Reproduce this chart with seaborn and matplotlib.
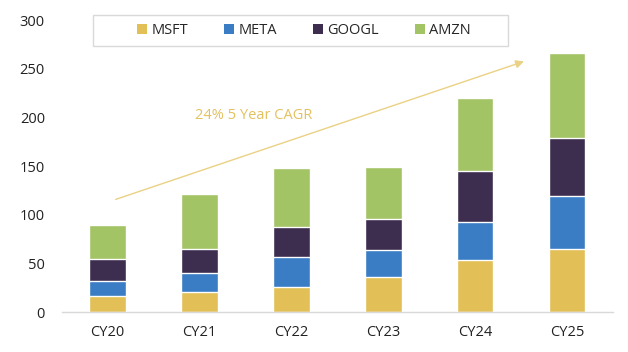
import matplotlib
matplotlib.use("Agg")
import matplotlib.pyplot as plt
from matplotlib.patches import Patch, Rectangle
import seaborn as sns
import pandas as pd
import numpy as np

# data
years = ["CY20", "CY21", "CY22", "CY23", "CY24", "CY25"]
msft = [17, 21, 26, 36, 54, 65]
meta = [15, 19, 31, 28, 39, 54]
googl = [23, 25, 31, 32, 52, 60]
amzn = [35, 56, 60, 53, 75, 87]

companies = ["MSFT", "META", "GOOGL", "AMZN"]
colors = {"MSFT": "#E2C057", "META": "#3A7DC4", "GOOGL": "#3D2E4F", "AMZN": "#A2C465"}

sns.set_theme(style="white")
plt.rcParams["font.family"] = ["Open Sans", "DejaVu Sans"]

df = pd.DataFrame({"year": years, "MSFT": msft, "META": meta, "GOOGL": googl, "AMZN": amzn})
cum = df[companies].cumsum(axis=1)
cum["year"] = df["year"]

fig = plt.figure(figsize=(6.28, 3.52), dpi=100)
ax = fig.add_axes([0.098, 0.1128, 0.878, 0.830])

# stacked bars: draw cumulative totals from top layer down
for name in reversed(companies):
    sns.barplot(data=cum, x="year", y=name, color=colors[name], width=0.4,
                saturation=1, ax=ax)

ax.set_ylim(0, 300)
ax.set_xlim(-0.5, 5.5)
ax.set_yticks(range(0, 301, 50))
ax.set_xlabel("")
ax.set_ylabel("")
for s in ["top", "right", "left"]:
    ax.spines[s].set_visible(False)
ax.spines["bottom"].set_color("#d9d9d9")
ax.spines["bottom"].set_linewidth(1)
ax.tick_params(axis="y", length=0, pad=12, labelsize=10.5, labelcolor="#222222")
ax.tick_params(axis="x", length=0, pad=9, labelsize=10.5, labelcolor="#222222")

# CAGR arrow + label
ax.annotate("", xy=(4.56, 258.5), xytext=(0.06, 115),
            arrowprops=dict(arrowstyle="-|>", color="#EBD184", lw=1.0,
                            mutation_scale=12))
ax.text(1.59, 202, "24% 5 Year CAGR", color="#E3C15E", fontsize=10.5,
        ha="center", va="center")

# legend box drawn separately so it can be wider than its entries
fig.patches.append(Rectangle((0.148, 0.869), 0.661, 0.088, transform=fig.transFigure,
                             facecolor="white", edgecolor="#d9d9d9", lw=1, zorder=2))
handles = [Patch(facecolor=colors[c], edgecolor="none", label=c) for c in companies]
leg = fig.legend(handles=handles, ncol=4, loc="center",
                 bbox_to_anchor=(0.484, 0.913), frameon=False, fontsize=10.5,
                 handlelength=0.65, handleheight=0.65, handletextpad=0.3,
                 columnspacing=2.5, borderaxespad=0)
leg.set_zorder(3)

fig.savefig("out.png", dpi=100)
